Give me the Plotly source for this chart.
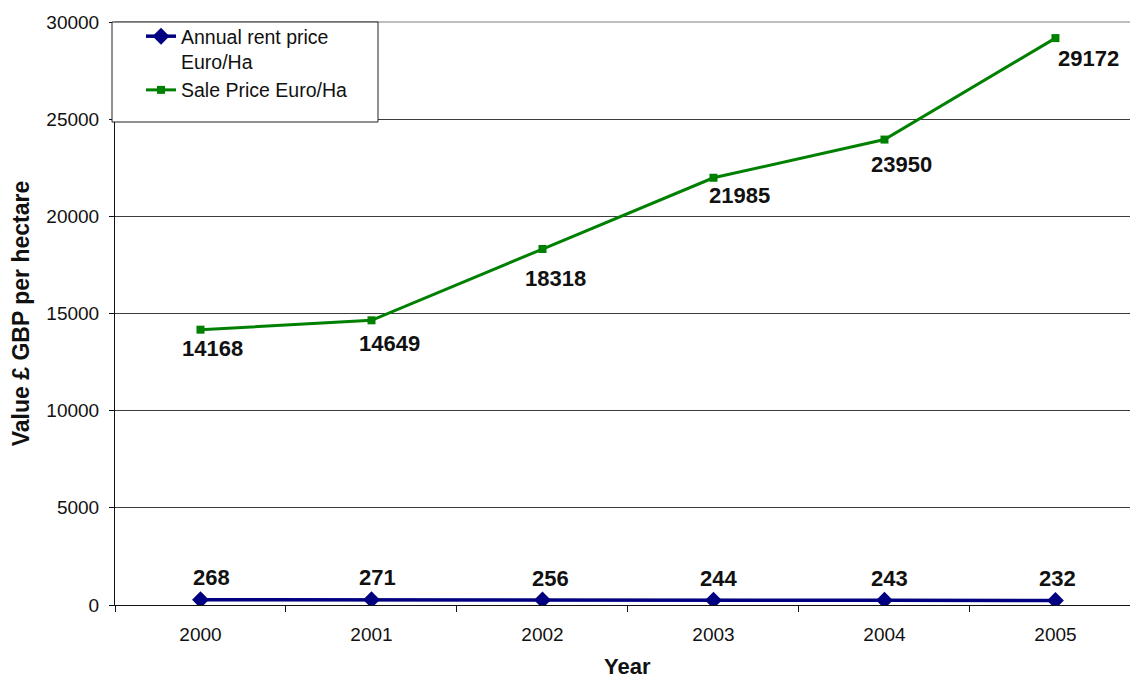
import plotly.graph_objects as go

# Land values per hectare, 2000-2005
years = ["2000", "2001", "2002", "2003", "2004", "2005"]
rent_price = [268, 271, 256, 244, 243, 232]
sale_price = [14168, 14649, 18318, 21985, 23950, 29172]
y_ticks = [0, 5000, 10000, 15000, 20000, 25000, 30000]

# Pixel nudges for the value labels (dx, dy)
sale_label_shift = [(12, -19), (18, -23), (13, -29), (26, -18), (17, -25), (33, -20)]
rent_label_shift = [(11, 22), (6, 22), (8, 22), (5, 22), (5, 22), (2, 22)]

FONT = "Arial, Liberation Sans, sans-serif"
NAVY = "#000080"
GREEN = "#008000"
INK = "#111111"

# plot-area geometry in pixels, used to place the legend frame
L, T, PW, PH = 115, 22, 1015, 583


def px_x(p):
    return (p - L) / PW


def px_y(p):
    return 1 - (p - T) / PH


fig = go.Figure()

fig.add_trace(go.Scatter(
    x=years, y=rent_price, mode="lines+markers",
    name="Annual rent price<br>Euro/Ha",
    line=dict(color=NAVY, width=3.5),
    marker=dict(symbol="diamond", size=13, color=NAVY),
))
fig.add_trace(go.Scatter(
    x=years, y=sale_price, mode="lines+markers",
    name="Sale Price Euro/Ha",
    line=dict(color=GREEN, width=3),
    marker=dict(symbol="square", size=8, color=GREEN),
))

label_font = dict(family=FONT, size=22, color=INK, weight="bold")
annotations = []
for i, (v, (dx, dy)) in enumerate(zip(sale_price, sale_label_shift)):
    annotations.append(dict(x=i, y=v, text=str(v), showarrow=False,
                            xshift=dx, yshift=dy, font=label_font))
for i, (v, (dx, dy)) in enumerate(zip(rent_price, rent_label_shift)):
    annotations.append(dict(x=i, y=v, text=str(v), showarrow=False,
                            xshift=dx, yshift=dy, font=label_font))
# x-axis title centred under the six categories
annotations.append(dict(
    x=(len(years) - 1) / 2, xref="x", y=0, yref="paper", yshift=-61,
    text="Year", showarrow=False, yanchor="middle",
    font=dict(family=FONT, size=22, color=INK, weight="bold"),
))

fig.update_layout(
    width=1130, height=679,
    margin=dict(l=L, r=1130 - L - PW, t=T, b=679 - T - PH),
    paper_bgcolor="white", plot_bgcolor="white",
    font=dict(family=FONT, size=19, color=INK),
    showlegend=True,
    legend=dict(
        x=px_x(141), y=px_y(17), xanchor="left", yanchor="top",
        bgcolor="rgba(0,0,0,0)", borderwidth=0, valign="top",
        font=dict(family=FONT, size=19.5, color=INK),
        tracegroupgap=0, itemwidth=30,
    ),
    annotations=annotations,
    shapes=[
        # light frame line along the top of the plot area
        dict(type="line", xref="paper", yref="paper", x0=0, x1=1, y0=1, y1=1,
             line=dict(color="#a8a8a8", width=1.5), layer="above"),
        # legend frame
        dict(type="rect", xref="paper", yref="paper",
             x0=px_x(112), x1=px_x(378), y0=px_y(122), y1=px_y(22),
             fillcolor="white", line=dict(color="#222", width=1), layer="above"),
    ],
)

fig.update_xaxes(
    type="category", range=[-0.5, 5.436],
    tickson="boundaries", ticks="outside", ticklen=6, tickcolor=INK,
    showline=True, linecolor=INK, linewidth=1,
    showgrid=False, ticklabelstandoff=12,
    tickfont=dict(family=FONT, size=19, color=INK),
)
fig.update_yaxes(
    range=[0, 30000], tickvals=y_ticks, ticktext=[str(t) for t in y_ticks],
    ticks="outside", ticklen=5, tickcolor=INK,
    showline=True, linecolor=INK, linewidth=1,
    showgrid=True, gridcolor="#3c3c3c", gridwidth=1, zeroline=False,
    ticklabelstandoff=6,
    tickfont=dict(family=FONT, size=19, color=INK),
    title=dict(text="Value £ GBP per hectare", standoff=10,
               font=dict(family=FONT, size=23, color=INK, weight="bold")),
)

fig.write_html("out.html")
